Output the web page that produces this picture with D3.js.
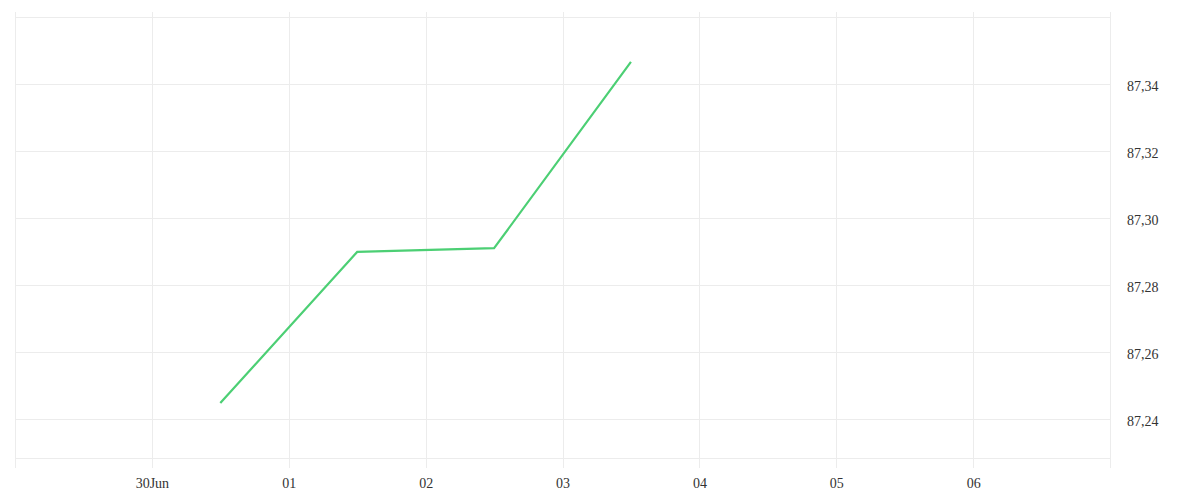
<!DOCTYPE html>
<html>
<head>
<meta charset="utf-8">
<script src="https://cdn.jsdelivr.net/npm/d3@7/dist/d3.min.js"></script>
<style>
  html, body { margin: 0; padding: 0; background: #fff; }
  svg { display: block; }
  text { font-family: "Liberation Serif", serif; font-size: 14px; fill: #333; }
</style>
</head>
<body>
<svg id="chart" width="1200" height="500"></svg>
<script>
// Data
const dates = ["2023-06-30T12:00", "2023-07-01T12:00", "2023-07-02T12:00", "2023-07-03T12:00"];
const values = [87.2448, 87.2899, 87.2910, 87.3466];
const xTickDates = ["2023-06-30", "2023-07-01", "2023-07-02", "2023-07-03", "2023-07-04", "2023-07-05", "2023-07-06"];
const xTickLabels = ["30Jun", "01", "02", "03", "04", "05", "06"];
const yTickValues = [87.24, 87.26, 87.28, 87.30, 87.32, 87.34];
const yTickLabels = ["87,24", "87,26", "87,28", "87,30", "87,32", "87,34"];
const xDomain = ["2023-06-29T00:00", "2023-07-07T00:00"];
const yDomain = [87.2284, 87.36];

(function () {
const parse = d3.isoParse;
const svg = d3.select("#chart");
const pLeft = 15, pRight = 1110, pTop = 17, pBottom = 458;

const x = d3.scaleTime().domain(xDomain.map(s => new Date(s))).range([pLeft, pRight]);
const y = d3.scaleLinear().domain(yDomain).range([pBottom, pTop]);

const grid = svg.append("g").attr("stroke", "#ececec").attr("stroke-width", 1).attr("shape-rendering", "crispEdges");

// horizontal gridlines
const hLines = yTickValues.concat(yDomain);
grid.selectAll("line.h").data(hLines).join("line")
  .attr("class", "h")
  .attr("x1", pLeft).attr("x2", pRight)
  .attr("y1", d => Math.round(y(d)) + 0.5).attr("y2", d => Math.round(y(d)) + 0.5);

// vertical gridlines (including plot edges)
const vDates = xTickDates.map(s => new Date(s)).concat(xDomain.map(s => new Date(s)));
grid.selectAll("line.v").data(vDates).join("line")
  .attr("class", "v")
  .attr("x1", d => Math.round(x(d)) + 0.5).attr("x2", d => Math.round(x(d)) + 0.5)
  .attr("y1", pTop - 5).attr("y2", pBottom + 10);

// x axis labels
const xAxis = d3.axisBottom(x)
  .tickValues(xTickDates.map(s => new Date(s)))
  .tickFormat((d, i) => xTickLabels[i])
  .tickSize(0).tickPadding(0);
const gx = svg.append("g").attr("transform", `translate(0, ${pBottom + 20})`).call(xAxis);
gx.select(".domain").remove();
gx.selectAll("text").attr("dy", "0.71em").style("font-family", "Liberation Serif").style("font-size", "14px").attr("fill", "#333");

// y axis labels
const yAxis = d3.axisRight(y)
  .tickValues(yTickValues)
  .tickFormat((d, i) => yTickLabels[i])
  .tickSize(0).tickPadding(0);
const gy = svg.append("g").attr("transform", `translate(1127, 2)`).call(yAxis);
gy.select(".domain").remove();
gy.selectAll("text").style("font-family", "Liberation Serif").style("font-size", "14px").attr("fill", "#333");

// line
const data = dates.map((d, i) => ({ date: parse(d), value: values[i] }));
const line = d3.line().x(d => x(d.date)).y(d => y(d.value));
svg.append("path").datum(data)
  .attr("d", line)
  .attr("fill", "none")
  .attr("stroke", "#4ccf74")
  .attr("stroke-width", 2.2)
  .attr("stroke-linejoin", "miter");
})();
</script>
</body>
</html>
